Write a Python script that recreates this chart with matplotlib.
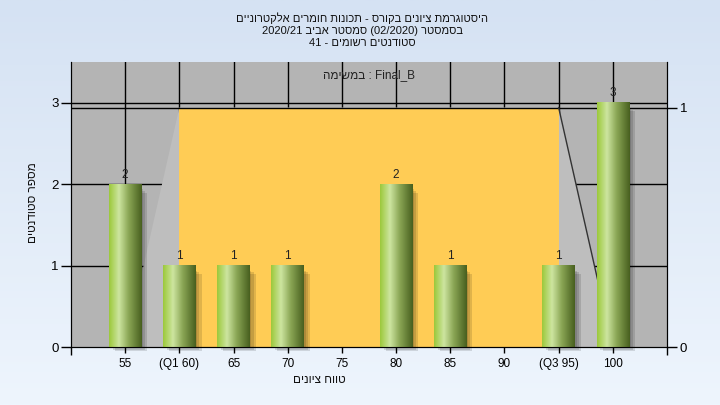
import re
import numpy as np
import matplotlib
matplotlib.use('Agg')
import matplotlib.pyplot as plt
from matplotlib.colors import LinearSegmentedColormap
from matplotlib.patches import Polygon, Rectangle

plt.rcParams['font.family'] = ['Liberation Sans', 'DejaVu Sans']

# data
grades = [55, 60, 65, 70, 75, 80, 85, 90, 95, 100]
counts = [2, 1, 1, 1, 0, 2, 1, 0, 1, 3]
tick_labels = ['55', '(Q1 60)', '65', '70', '75', '80', '85', '90', '(Q3 95)', '100']
box_grades = [55, 60, 95, 100]      # min, Q1, Q3, max
box_heights = [0, 1, 1, 0]          # right axis units
title_lines = ['היסטוגרמת ציונים בקורס - תכונות חומרים אלקטרוניים',
               'בסמסטר (02/2020) סמסטר אביב 2020/21',
               'סטודנטים רשומים - 41']
task_word = 'במשימה'
task_name = 'Final_B'
xlabel = 'טווח ציונים'
ylabel = 'מספר סטודנטים'


def rtl(s):
    # crude visual ordering for hebrew text, latin/digit runs kept as is
    pat = r'([0-9A-Za-z_/.]+)'
    out = []
    for p in re.split(pat, s)[::-1]:
        if re.fullmatch(pat, p):
            out.append(p)
        else:
            out.append(p[::-1].translate(str.maketrans('()', ')(')))
    return ''.join(out)


fig = plt.figure(figsize=(7.2, 4.05), dpi=100)

# light blue gradient background
bg = fig.add_axes([0, 0, 1, 1], zorder=-10)
bg_cmap = LinearSegmentedColormap.from_list('bg', ['#eef5fd', '#d5e2f3'])
bg.imshow(np.linspace(0, 1, 256).reshape(-1, 1), aspect='auto', cmap=bg_cmap,
          origin='lower', extent=[0, 1, 0, 1])
bg.axis('off')

ax = fig.add_axes([71 / 720, 58 / 405, 596 / 720, 285 / 405])
ax2 = ax.twinx()
ax.set_facecolor('#b4b4b4')

x = np.arange(1, len(grades) + 1)
ax.set_xlim(0, len(grades) + 1)
ax.set_ylim(0, 3.5)
ax2.set_ylim(0, 1.19)
scale = ax.get_ylim()[1] / ax2.get_ylim()[1]

# grid
for xi in x:
    ax.axvline(xi, color='black', lw=1, zorder=1)
for yv in [1, 2, 3]:
    ax.axhline(yv, color='black', lw=1, zorder=1)
ax.axhline(max(box_heights) * scale, color='black', lw=1, zorder=3)

# box (min-Q1-Q3-max)
bx = [x[grades.index(g)] for g in box_grades]
by = [h * scale for h in box_heights]
ax.add_patch(Polygon(list(zip(bx, by)), closed=True, facecolor='#bebebe',
                     edgecolor='none', zorder=2))
ax.add_patch(Rectangle((bx[1], 0), bx[2] - bx[1], by[1], facecolor='#ffcc55',
                       edgecolor='none', zorder=2.5))
ax.plot(bx[2:], by[2:], color='#333333', lw=1, zorder=3)

# bars with cylinder shading
w = 0.6
bar_cmap = LinearSegmentedColormap.from_list(
    'bar', [(0, '#9cc93c'), (0.3, '#cde5a0'), (0.6, '#8aa655'), (1, '#48601f')])
grad = np.linspace(0, 1, 64).reshape(1, -1)
for xi, c in zip(x, counts):
    if c == 0:
        continue
    for d in [0.03, 0.07, 0.11]:
        ax.add_patch(Rectangle((xi - w / 2 + d, -d * 0.5), w, c - 0.05,
                               facecolor='black', alpha=0.12, edgecolor='none',
                               zorder=3.5, clip_on=False))
    ax.imshow(grad, extent=[xi - w / 2, xi + w / 2, 0, c], aspect='auto',
              cmap=bar_cmap, zorder=4, interpolation='bilinear')
    ax.text(xi, c + 0.04, str(c), ha='center', va='bottom', fontsize=8.5,
            color='#222222', zorder=5)

ax.set_xlim(0, len(grades) + 1)
ax.set_ylim(0, 3.5)

ax.set_xticks(x)
ax.set_xticklabels(tick_labels)
ax.set_xticks([0, len(grades) + 1], minor=True)
ax.set_yticks([0, 1, 2, 3])
ax.tick_params(axis='x', which='major', length=4, width=1, pad=4, labelsize=8.5)
ax.tick_params(axis='x', which='minor', length=6, width=1)
ax.tick_params(axis='y', length=7, width=1, labelsize=9.5, pad=2)
ax2.set_yticks([0, 1])
ax2.tick_params(axis='y', length=7, width=1, labelsize=9.5, pad=2)
ax2.spines['top'].set_visible(False)
ax.spines['top'].set_visible(False)

ax.text(0.5, 0.955, rtl(task_word) + ' : ' + task_name, transform=ax.transAxes,
        ha='center', va='center', fontsize=8.5, color='#222222', zorder=6)

for i, line in enumerate(title_lines):
    fig.text(362 / 720, 1 - (18 + 12.5 * i) / 405, rtl(line), ha='center',
             va='center', fontsize=8, color='#111111')
fig.text(319 / 720, 1 - 380 / 405, rtl(xlabel), ha='center', va='center',
         fontsize=8.5, color='#111111')
fig.text(33 / 720, 1 - 203 / 405, rtl(ylabel), ha='center', va='center',
         rotation=90, fontsize=8.5, color='#111111')

fig.savefig('out.png', dpi=100)
